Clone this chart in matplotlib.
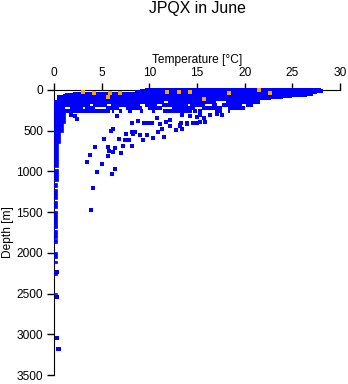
#!/usr/bin/env python3
import matplotlib
matplotlib.use("Agg")
import matplotlib.pyplot as plt

plt.rcParams["font.family"] = ["Liberation Sans", "DejaVu Sans"]

x_ticks = [0, 5, 10, 15, 20, 25, 30]
y_ticks = [0, 500, 1000, 1500, 2000, 2500, 3000, 3500]

# runs of merged points near the surface: depth, first temp, last temp
band_depth = [6, 18, 30, 45, 58, 72, 85, 98, 108,
	145, 145, 145,
	187, 187, 187, 187, 187, 187, 187, 187, 187,
	221, 221, 221, 221, 221, 221, 221, 221, 221,
	258, 258, 258, 258, 258, 258, 258, 258, 258, 258, 258]
band_t0 = [9.5, 9, 8.5, 2.0, 1.2, 0.9, 0.3, 0.3, 1.0,
	0, 12, 18,
	0, 4.1, 6, 9.5, 11.3, 14.3, 16.6, 17.6, 20.1,
	0, 1.7, 3.3, 5.5, 7.5, 9.9, 12.4, 15.5, 18.3,
	0, 6.1, 6.8, 7.8, 9, 11.4, 14.6, 15.1, 16.9, 18.2, 10.3]
band_t1 = [28, 28.2, 27.6, 27.2, 26.5, 25, 24, 22.8, 21,
	11.5, 17, 21.6,
	3.8, 5.6, 9, 10.8, 14.1, 15.8, 17.1, 19.7, 20.9,
	1.2, 3, 4.3, 6.8, 9.2, 11.3, 14.8, 17.6, 20,
	5.9, 6.3, 7.1, 8.2, 9.3, 14.5, 15, 15.5, 17.6, 18.5, 10.6]

# deep column next to the axis
col_t = [1.2, 0.9, 0.6, 0.45, 0.4, 0.35, 0.35, 0.35, 0.35, 0.35, 0.35, 0.35, 0.35, 0.35, 0.35]
col_top = [270, 410, 512, 654, 971, 1144, 1218, 1362, 1486, 1724, 1835, 1988, 2103, 2218, 2496]
col_bottom = [410, 512, 654, 950, 1115, 1197, 1342, 1453, 1691, 1815, 1885, 2062, 2123, 2267, 2510]

# single points
temps = [6.6, 8.15, 8.8, 9.4, 9.9, 5.95, 6.15, 5.2, 4.3, 5.7, 6.4, 5.8, 6.2, 5.7, 3.8, 3.5,
	5.0, 4.55, 6.4, 6.1, 7.2, 8.2, 7.0, 6.85, 7.45, 7.9, 7.55, 8.15, 8.5, 8.25, 9.0, 9.3,
	9.8, 10.4, 10.9, 11.3, 11.5, 10.25, 11.1, 11.8, 12.2, 12.2, 12.8, 13.4, 13.2, 13.9, 10.8,
	13.4, 14.3, 15.3, 15.0, 16.4, 15.7, 17.1, 17.6, 15.3, 15.8, 15.0, 14.6, 14.0, 13.3, 13.2, 13.4,
	4.05, 3.85, 0.3, 0.3, 0.3, 0.4, 0.5, 2.4, 2.2, 1.8]
depths = [315, 410, 385, 401, 410, 504, 483, 602, 696, 704, 709, 753, 762, 811, 799, 889,
	909, 1004, 967, 1028, 684, 692, 770, 606, 614, 614, 544, 512, 512, 540, 553, 618,
	553, 593, 512, 483, 581, 410, 418, 389, 369, 439, 491, 483, 430, 401, 348,
	307, 319, 307, 336, 307, 348, 299, 307, 389, 393, 410, 410, 421, 410, 439, 483,
	1200, 1478, 2233, 2540, 3040, 3185, 3185, 360, 320, 305]

# orange points
orange_t = [3, 4.2, 5.9, 5.7, 6.9, 11.9, 13.1, 14.3, 15.7, 18.4, 21.5, 22.7]
orange_d = [28, 41, 41, 86, 41, 28, 28, 28, 111, 41, 5, 41]

fig = plt.figure(figsize=(3.48, 3.84), dpi=100)
ax = fig.add_axes([54 / 348, 1 - 375 / 384, 286 / 348, 285 / 384])

blue = "#0000ff"
ax.hlines(band_depth, band_t0, band_t1, color=blue, lw=1.6, zorder=3, clip_on=False, antialiased=False)
for t, top, bottom in zip(col_t, col_top, col_bottom):
	ax.fill_betweenx([top, bottom], 0, t, color=blue, lw=0.5, zorder=3, clip_on=False, antialiased=False)
ax.plot(temps, depths, "s", color=blue, ms=2.4, mew=0, zorder=3, clip_on=False, antialiased=False)
ax.plot(orange_t, orange_d, "s", color="#ffa500", ms=3, mew=0, zorder=4, clip_on=False, antialiased=False)

ax.set_xlim(0, 30)
ax.set_ylim(3500, 0)
ax.xaxis.tick_top()
ax.xaxis.set_label_position("top")
ax.set_xticks(x_ticks)
ax.set_yticks(y_ticks)
ax.tick_params(length=5, width=1, labelsize=8.6, pad=3)
ax.spines["right"].set_visible(False)
ax.spines["bottom"].set_visible(False)
ax.set_xlabel("Temperature [°C]", fontsize=8.6, labelpad=3)
ax.set_ylabel("Depth [m]", fontsize=8.6, labelpad=2)
fig.text(197 / 348, 1 - 9 / 384, "JPQX in June", fontsize=11.4, ha="center", va="center")

fig.savefig("out.png", dpi=100)
